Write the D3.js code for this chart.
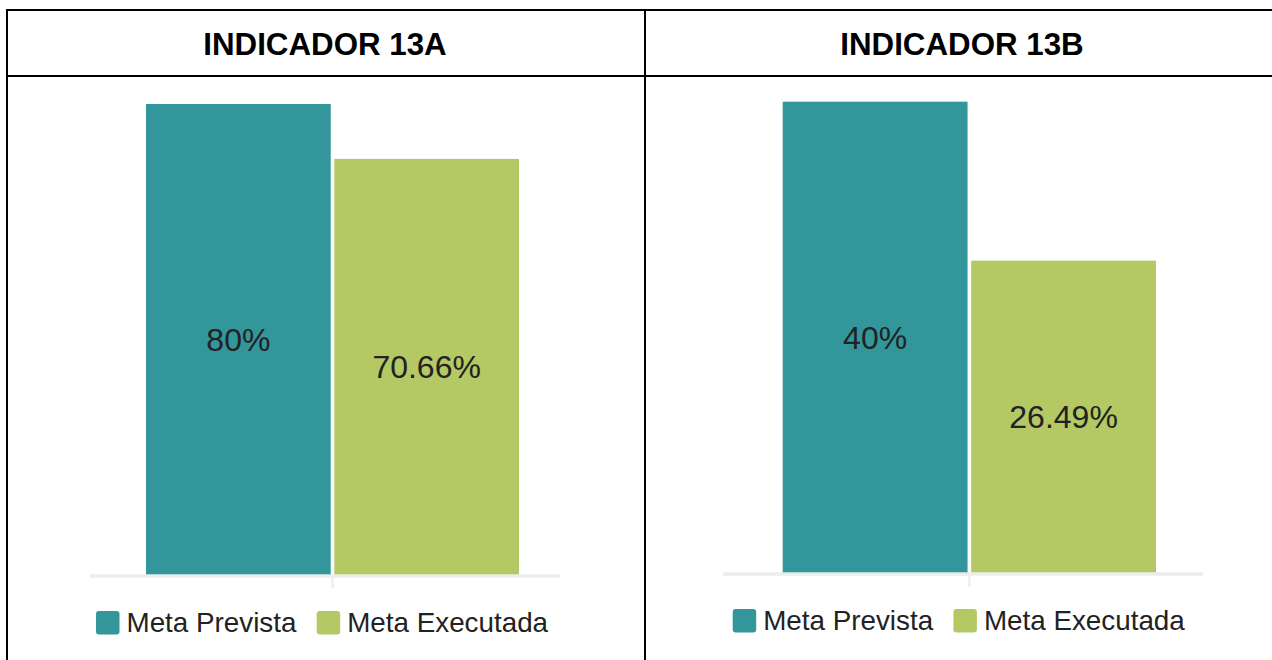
<!DOCTYPE html>
<html>
<head>
<meta charset="utf-8">
<script src="https://cdn.jsdelivr.net/npm/d3@7"></script>
<style>
  html, body { margin: 0; padding: 0; background: #fff; }
  svg { display: block; }
  text { font-family: Arial, "Liberation Sans", sans-serif; }
</style>
</head>
<body>
<svg id="chart" width="1272" height="660"></svg>
<script>
// Indicator titles and series
const indicators = ["INDICADOR 13A", "INDICADOR 13B"];
const seriesNames = ["Meta Prevista", "Meta Executada"];
const values13A = [80, 70.66];
const values13B = [40, 26.49];
const seriesColors = ["#32969b", "#b4c864"];

const panelValues = [values13A, values13B];

// Layout of each table cell's chart: title centre, bar group, axis extent, baseline, legend origin
const panelLayout = [
  { titleX: 325, groupX0: 146,   groupX1: 519,  axisX0: 90,  axisX1: 560,  top: 104,   base: 574.3, legendX: 96,    legendY: 611 },
  { titleX: 962, groupX0: 782.7, groupX1: 1156, axisX0: 723, axisX1: 1203, top: 101.7, base: 572.3, legendX: 732.7, legendY: 609 }
];

const svg = d3.select("#chart");

// Table grid
const grid = svg.append("g").attr("stroke", "#000").attr("stroke-width", 2);
grid.append("line").attr("x1", 7).attr("x2", 1272).attr("y1", 10).attr("y2", 10);
grid.append("line").attr("x1", 7).attr("x2", 1272).attr("y1", 76).attr("y2", 76);
grid.append("line").attr("x1", 7).attr("x2", 7).attr("y1", 9).attr("y2", 660);
grid.append("line").attr("x1", 645).attr("x2", 645).attr("y1", 9).attr("y2", 660);

indicators.forEach((title, i) => {
  const L = panelLayout[i];
  const vals = panelValues[i];
  const data = seriesNames.map((s, k) => ({ name: s, value: vals[k], color: seriesColors[k] }));

  // Header title
  svg.append("text")
    .attr("x", L.titleX)
    .attr("y", 55)
    .attr("text-anchor", "middle")
    .attr("font-size", 31.3)
    .attr("font-weight", "bold")
    .attr("fill", "#000")
    .text(title);

  const x = d3.scaleBand()
    .domain(seriesNames)
    .range([L.groupX0, L.groupX1])
    .paddingInner(0.019);

  const y = d3.scaleLinear()
    .domain([0, d3.max(vals)])
    .range([L.base, L.top]);

  const g = svg.append("g");

  // Baseline axis and the single category tick
  g.append("line")
    .attr("x1", L.axisX0).attr("x2", L.axisX1)
    .attr("y1", L.base + 1.8).attr("y2", L.base + 1.8)
    .attr("stroke", "#ececec").attr("stroke-width", 3.5);
  const tickX = (x(seriesNames[0]) + x.bandwidth() + x(seriesNames[1])) / 2;
  g.append("line")
    .attr("x1", tickX).attr("x2", tickX)
    .attr("y1", L.base + 3).attr("y2", L.base + 14)
    .attr("stroke", "#f0f0f0").attr("stroke-width", 3);

  // Bars
  g.selectAll("rect.bar")
    .data(data)
    .join("rect")
    .attr("class", "bar")
    .attr("x", d => x(d.name))
    .attr("y", d => y(d.value))
    .attr("width", x.bandwidth())
    .attr("height", d => y(0) - y(d.value))
    .attr("fill", d => d.color);

  // Value labels, centered in each bar
  g.selectAll("text.val")
    .data(data)
    .join("text")
    .attr("class", "val")
    .attr("x", d => x(d.name) + x.bandwidth() / 2)
    .attr("y", d => (y(d.value) + y(0)) / 2)
    .attr("dy", "0.36em")
    .attr("text-anchor", "middle")
    .attr("font-size", 32)
    .attr("fill", "#222")
    .text(d => d3.format("")(d.value) + "%");

  // Legend
  const legend = g.append("g").attr("transform", `translate(${L.legendX},${L.legendY})`);
  const offsets = [0, 220.7];
  data.forEach((d, k) => {
    const item = legend.append("g").attr("transform", `translate(${offsets[k]},0)`);
    item.append("rect")
      .attr("width", 23.5).attr("height", 23.5)
      .attr("rx", 3).attr("ry", 3)
      .attr("fill", d.color);
    item.append("text")
      .attr("x", 30.5)
      .attr("y", 20.5)
      .attr("font-size", 27.8)
      .attr("fill", "#222")
      .text(d.name);
  });
});
</script>
</body>
</html>
